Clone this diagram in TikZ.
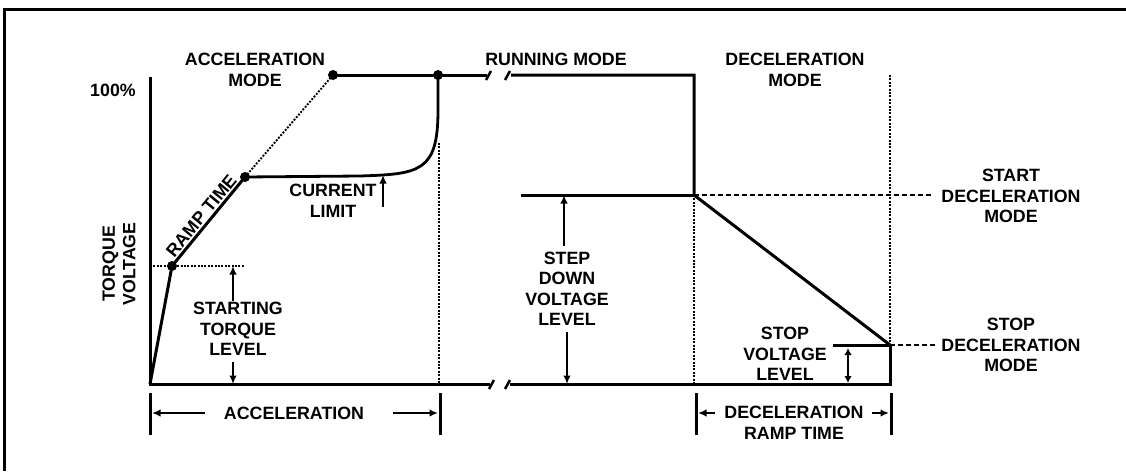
\documentclass[tikz,border=0pt]{standalone}
\usepackage{fontspec}
\setmainfont{Liberation Sans}
\usetikzlibrary{arrows.meta}
\begin{document}
\begin{tikzpicture}[x=1pt,y=-1pt,
  lbl/.style={font=\fontsize{17.8}{20.5}\selectfont\bfseries, align=center, inner sep=0pt},
  mainline/.style={line width=3pt, line join=miter},
  curveline/.style={line width=2.8pt},
  dotline/.style={line width=1.9pt, dash pattern=on 1.9pt off 1.5pt},
  dashline/.style={line width=2.1pt, dash pattern=on 5pt off 3pt},
  arr/.style={line width=2.7pt, -{Latex[length=8.5pt,width=7.5pt]}},
  darr/.style={line width=2.7pt, {Latex[length=7pt,width=7.5pt]}-{Latex[length=7pt,width=7.5pt]}},
  tickline/.style={line width=3pt},
  brk/.style={line width=2.5pt},
  dotmark/.style={circle, fill, inner sep=0pt, minimum size=10pt},
  frame/.style={line width=3pt}
]
\useasboundingbox (0,0) rectangle (1126,471);
% frame
\draw[frame] (3,9) -- (1126,9);
\draw[frame] (4,9) -- (4,471);

% key coordinates
\coordinate (ytop) at (150,77);
\coordinate (O) at (150,384);
\coordinate (A) at (172,266);
\coordinate (B) at (245,177);
\coordinate (C) at (333,75);
\coordinate (D) at (438,75);
\coordinate (brkL) at (490,384);
\coordinate (brkR) at (510,384);
\coordinate (tbrkL) at (487,75);
\coordinate (tbrkR) at (511,75);
\coordinate (R1) at (694,75);
\coordinate (R2) at (694,195);
\coordinate (S0) at (521,195);
\coordinate (E1) at (890,345);
\coordinate (E0) at (890,384);
\coordinate (SV0) at (833,345);
\coordinate (L0) at (150,266);
\coordinate (L1) at (245,266);
\coordinate (V1a) at (439,143);
\coordinate (V1b) at (439,384);
\coordinate (V2b) at (694,384);
\coordinate (V3a) at (890,75);
\coordinate (DS1) at (932,195);
\coordinate (DS2) at (935,345);

% dotted guides
\draw[dotline] (L0) -- (L1);
\draw[dotline] (B) -- (C);
\draw[dotline] (V1a) -- (V1b);
\draw[dotline] (R2) -- (V2b);
\draw[dotline] (V3a) -- (E1);
% dashed guides
\draw[dashline] (R2) -- (DS1);
\draw[dashline] (E1) -- (DS2);

% axes
\draw[mainline] (ytop) -- (O) -- (brkL);
\draw[mainline] (brkR) -- (E0) -- (E1);
\draw[brk] (489,389) -- (494,380);
\draw[brk] (505,389) -- (510,380);
\draw[brk] (486,80) -- (491,71);
\draw[brk] (505,80) -- (510,71);

% curves
\draw[mainline] (O) -- (A) -- (B);
\draw[curveline] (B) -- (360,176) .. controls (420,174) and (438,172) .. (438,110) -- (D);
\draw[mainline] (C) -- (tbrkL);
\draw[mainline] (tbrkR) -- (R1) -- (R2) -- (E1);
\draw[mainline] (S0) -- (R2);
\draw[mainline] (SV0) -- (E1);

% dots
\node[dotmark] (dA) at (A) {};
\node[dotmark] (dB) at (B) {};
\node[dotmark] (dC) at (C) {};
\node[dotmark] (dD) at (D) {};

% labels
\node[lbl] (hundred) at (113,90) {100\%};
\node[lbl, rotate=90] (ylab) at (119,264) {TORQUE\\VOLTAGE};
\node[lbl] (accmode) at (255,70) {ACCELERATION\\MODE};
\node[lbl] (runmode) at (556,59) {RUNNING MODE};
\node[lbl] (decmode) at (795,70) {DECELERATION\\MODE};
\node[lbl, rotate=50.6, anchor=south, inner sep=3pt] (ramp) at (208.5,221.5) {RAMP TIME};
\node[lbl] (curlim) at (333,201) {CURRENT\\LIMIT};
\node[lbl] (sttorq) at (238,329) {STARTING\\TORQUE\\LEVEL};
\node[lbl] (stepdn) at (567,289) {STEP\\DOWN\\VOLTAGE\\LEVEL};
\node[lbl] (stopv) at (785,354) {STOP\\VOLTAGE\\LEVEL};
\node[lbl] (startdec) at (1011,196) {START\\DECELERATION\\MODE};
\node[lbl] (stopdec) at (1011,345) {STOP\\DECELERATION\\MODE};
\node[lbl] (acclab) at (294,413) {ACCELERATION};
\node[lbl] (declab) at (794,423) {DECELERATION\\RAMP TIME};

% label arrows
\coordinate (cl0) at (383,207);
\coordinate (cl1) at (383,175);
\draw[arr] (cl0) -- (cl1);
\coordinate (st0) at (233,301);
\coordinate (st1) at (233,266);
\coordinate (st2) at (233,362);
\coordinate (st3) at (233,384);
\draw[arr] (st0) -- (st1);
\draw[arr] (st2) -- (st3);
\coordinate (sd0) at (564,246);
\coordinate (sd1) at (564,195);
\coordinate (sd2) at (567,332);
\coordinate (sd3) at (567,384);
\draw[arr] (sd0) -- (sd1);
\draw[arr] (sd2) -- (sd3);
\coordinate (sv0) at (848,348);
\coordinate (sv1) at (848,383);
\draw[darr] (sv0) -- (sv1);

% dimension lines
\coordinate (ta1) at (150,393); \coordinate (ta2) at (150,435);
\coordinate (tb1) at (440,393); \coordinate (tb2) at (440,435);
\coordinate (tc1) at (696,393); \coordinate (tc2) at (696,435);
\coordinate (td1) at (891,393); \coordinate (td2) at (891,435);
\draw[tickline] (ta1) -- (ta2);
\draw[tickline] (tb1) -- (tb2);
\draw[tickline] (tc1) -- (tc2);
\draw[tickline] (td1) -- (td2);
\coordinate (aa0) at (205,413); \coordinate (aa1) at (152,413);
\coordinate (ab0) at (393,413); \coordinate (ab1) at (438,413);
\coordinate (ac0) at (715,413); \coordinate (ac1) at (698,413);
\coordinate (ad0) at (872,413); \coordinate (ad1) at (889,413);
\draw[arr] (aa0) -- (aa1);
\draw[arr] (ab0) -- (ab1);
\draw[arr] (ac0) -- (ac1);
\draw[arr] (ad0) -- (ad1);
\end{tikzpicture}
\end{document}
